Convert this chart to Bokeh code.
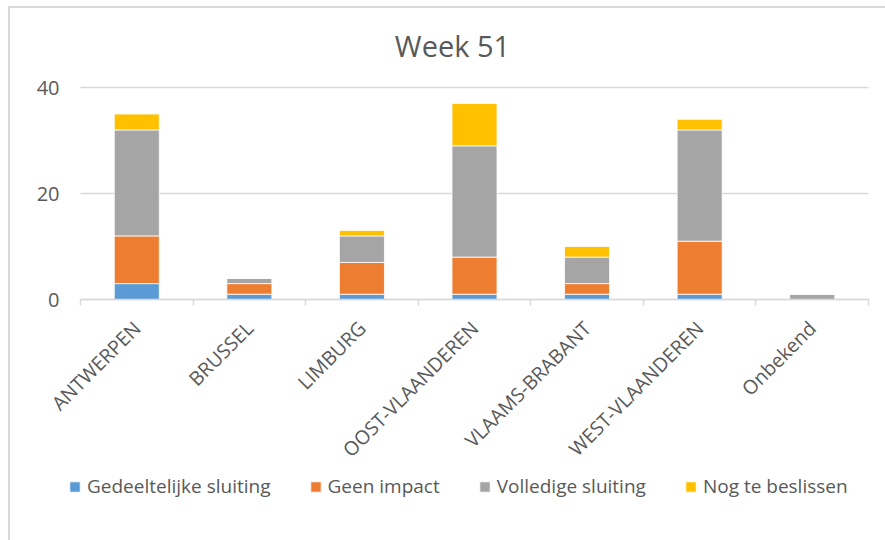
import numpy as np
from bokeh.plotting import figure
from bokeh.models import (Range1d, FixedTicker, Legend, LegendItem, Label,
                          ColumnDataSource)
from bokeh.core.properties import value
from bokeh.embed import file_html
from bokeh.resources import INLINE

# ---- data ----
regions = ["ANTWERPEN", "BRUSSEL", "LIMBURG", "OOST-VLAANDEREN",
           "VLAAMS-BRABANT", "WEST-VLAANDEREN", "Onbekend"]
gedeeltelijke_sluiting = [3, 1, 1, 1, 1, 1, 0]
geen_impact = [9, 2, 6, 7, 2, 10, 0]
volledige_sluiting = [20, 1, 5, 21, 5, 21, 1]
nog_te_beslissen = [3, 0, 1, 8, 2, 2, 0]
series_names = ["Gedeeltelijke sluiting", "Geen impact",
                "Volledige sluiting", "Nog te beslissen"]
y_ticks = [0, 20, 40]
title_text = "Week 51"

colors = ["#5B9BD5", "#ED7D31", "#A5A5A5", "#FFC000"]
FONT = "Open Sans"
TXT = "#595959"
GRID = "#d9d9d9"

# layout (pixels): the frame fills the whole chart area; value axis 0..40
# spans 212 px and the categories span 788 px starting 70 px from the left
n = len(regions)
FRAME_W, FRAME_H = 875, 532
PX_PER_UNIT_Y = 212 / 40
PX_PER_CAT = 788 / n
ZERO_FROM_BOTTOM = 241
CAT_LEFT = 70
y_lo = -ZERO_FROM_BOTTOM / PX_PER_UNIT_Y
y_hi = (FRAME_H - ZERO_FROM_BOTTOM) / PX_PER_UNIT_Y
x_lo = -CAT_LEFT / PX_PER_CAT
x_hi = (FRAME_W - CAT_LEFT) / PX_PER_CAT

xpos = [i + 0.5 for i in range(n)]
keys = ["g", "i", "v", "n"]
src = ColumnDataSource(dict(x=xpos, g=gedeeltelijke_sluiting, i=geen_impact,
                            v=volledige_sluiting, n=nog_te_beslissen))

p = figure(frame_width=FRAME_W, frame_height=FRAME_H, output_backend="svg",
           toolbar_location=None, y_axis_location=None,
           x_range=Range1d(x_lo, x_hi), y_range=Range1d(y_lo, y_hi),
           min_border_left=0, min_border_right=0, min_border_top=0,
           min_border_bottom=0, title=None)
p.margin = (6, 0, 0, 8)
p.styles = {"border-top": "2px solid #d9d9d9", "border-left": "2px solid #d9d9d9"}
p.outline_line_color = None
p.background_fill_color = "white"
p.border_fill_color = "white"
p.xgrid.grid_line_color = None
p.ygrid.grid_line_color = None

# value gridlines and value tick labels
p.segment(x0=[0] * len(y_ticks), x1=[n] * len(y_ticks), y0=y_ticks,
          y1=y_ticks, line_color=GRID, line_width=1.5)
p.text(x=[0] * len(y_ticks), y=y_ticks, text=[str(t) for t in y_ticks],
       x_offset=-21, text_align="right", text_baseline="middle",
       text_font=value(FONT), text_font_size="20px", text_color=TXT)

rs = p.vbar_stack(keys, x="x", width=0.4, color=colors, source=src,
                  line_color="white", line_width=0.8)

# category axis at value 0: labels at category centres, ticks at boundaries
p.xaxis.fixed_location = 0
p.xaxis.bounds = (0, n)
p.xaxis.ticker = FixedTicker(ticks=xpos, minor_ticks=list(range(n + 1)))
p.xaxis.major_label_overrides = {xv: r for xv, r in zip(xpos, regions)}
p.xaxis.major_label_orientation = np.pi / 4
p.xaxis.major_tick_line_color = None
p.xaxis.major_tick_out = 0
p.xaxis.major_tick_in = 0
p.xaxis.minor_tick_line_color = GRID
p.xaxis.minor_tick_line_width = 1.5
p.xaxis.minor_tick_out = 6
p.xaxis.minor_tick_in = 0
p.xaxis.axis_line_color = GRID
p.xaxis.axis_line_width = 1.5
p.xaxis.major_label_standoff = 19
p.xaxis.major_label_text_font = FONT
p.xaxis.major_label_text_font_size = "19.5px"
p.xaxis.major_label_text_color = TXT

# title (screen px from the frame's bottom-left)
p.add_layout(Label(x=442, y=495, x_units="screen", y_units="screen",
                   text=title_text, text_font=FONT, text_font_size="29px",
                   text_color=TXT, text_align="center",
                   text_baseline="middle"))

# legend
legend = Legend(items=[LegendItem(label=nm, renderers=[r])
                       for nm, r in zip(series_names, rs)],
                orientation="horizontal", location=(58, 41),
                glyph_width=13, glyph_height=13, label_standoff=6, spacing=38,
                padding=0, margin=0, border_line_color=None,
                background_fill_alpha=0,
                label_text_font=FONT, label_text_font_size="19px",
                label_text_color=TXT)
p.add_layout(legend)

open("out.html", "w").write(file_html(p, INLINE))
